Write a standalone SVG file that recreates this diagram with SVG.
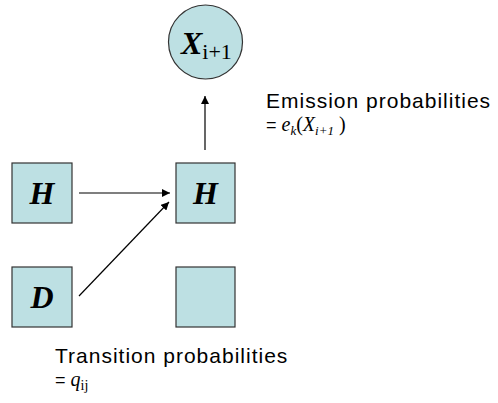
<svg xmlns="http://www.w3.org/2000/svg" width="498" height="403" viewBox="0 0 498 403">
<defs>
<style>
.n{fill:#bde0e3;stroke:#333;stroke-width:1.2}
.big{font-family:"Liberation Serif",serif;font-weight:bold;font-style:italic;font-size:32px;fill:#000}
.lab{font-family:"Liberation Sans",Arial,sans-serif;font-size:21px;letter-spacing:1px;fill:#000}
.eq{font-family:"Liberation Sans",Arial,sans-serif;font-size:18px;fill:#000}
.m{font-family:"Liberation Serif",serif;font-size:20px;letter-spacing:0}
.e{stroke:#000;stroke-width:1.2;fill:none}
</style>
<marker id="ah" viewBox="0 0 10 10" refX="10" refY="5" markerWidth="8" markerHeight="8" markerUnits="userSpaceOnUse" orient="auto">
<path d="M0,0 L10,5 L0,10 z" fill="#000"/>
</marker>
</defs>
<rect width="498" height="403" fill="#fff"/>
<g id="x_next">
<circle class="n" cx="205.5" cy="42" r="37"/>
<text x="181" y="54" class="big" font-size="34">X<tspan font-weight="normal" font-style="normal" font-size="22" dy="5">i+1</tspan></text>
</g>
<g id="h_left">
<rect class="n" x="12" y="163" width="60" height="60"/>
<text x="42" y="204" class="big" text-anchor="middle">H</text>
</g>
<g id="h_right">
<rect class="n" x="176" y="163" width="59" height="60"/>
<text x="205.5" y="204" class="big" text-anchor="middle">H</text>
</g>
<g id="d_left">
<rect class="n" x="12" y="267" width="60" height="60"/>
<text x="42" y="308" class="big" text-anchor="middle">D</text>
</g>
<g id="empty_right">
<rect class="n" x="176" y="267" width="59" height="60"/>
</g>
<g id="connectors">
<line class="e" x1="79" y1="193" x2="170" y2="193" marker-end="url(#ah)"/>
<line class="e" x1="79" y1="296" x2="169" y2="202" marker-end="url(#ah)"/>
<line class="e" x1="205" y1="150" x2="205" y2="96" marker-end="url(#ah)"/>
</g>
<g id="emission_label">
<text x="266" y="108" class="lab">Emission probabilities</text>
<text x="266" y="131" class="eq">= <tspan class="m" font-style="italic">e<tspan font-size="13" dy="4">k</tspan><tspan dy="-4" font-style="normal">(</tspan>X<tspan font-size="13" dy="4">i+1</tspan><tspan dy="-4" font-style="normal"> )</tspan></tspan></text>
</g>
<g id="transition_label">
<text x="55" y="363" class="lab">Transition probabilities</text>
<text x="55" y="386" class="eq">= <tspan class="m" font-style="italic">q<tspan font-size="14" dy="4" font-style="normal">ij</tspan></tspan></text>
</g>
</svg>
